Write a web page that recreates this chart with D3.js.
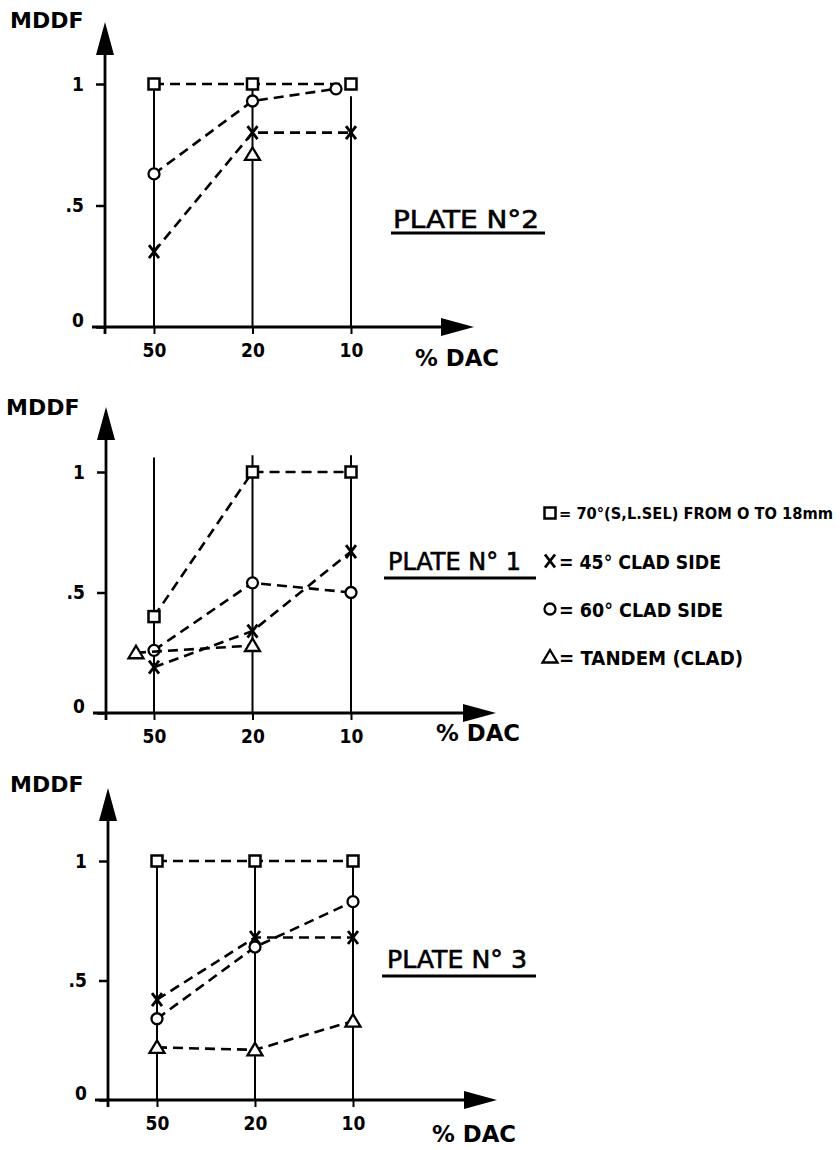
<!DOCTYPE html>
<html>
<head>
<meta charset="utf-8">
<script src="https://cdn.jsdelivr.net/npm/d3@7"></script>
<style>
body { margin: 0; background: #fff; }
svg { display: block; }
</style>
</head>
<body>
<div id="chart-area"></div>
<script>
const categories = ["50", "20", "10"];
const yTickValues = [0, 0.5, 1];
const yTickLabels = ["0", ".5", "1"];
const plateNames = ["PLATE  N°2", "PLATE  N° 1", "PLATE  N° 3"];
const seriesKeys = ["square", "cross", "circle", "triangle"];
const legendLabels = ["= 70°(S,L.SEL) FROM O TO 18mm", "= 45° CLAD SIDE", "= 60° CLAD SIDE", "= TANDEM (CLAD)"];

// MDDF per plate, in category order 50 / 20 / 10 (% DAC)
const plate2Square = [1.0, 1.0, 1.0];
const plate2Cross = [0.31, 0.80, 0.80];
const plate2Circle = [0.63, 0.93, 0.98];
const plate2Triangle = [null, 0.71, null];

const plate1Square = [0.40, 1.0, 1.0];
const plate1Cross = [0.19, 0.34, 0.67];
const plate1Circle = [0.26, 0.54, 0.50];
const plate1Triangle = [0.25, 0.28, null];

const plate3Square = [1.0, 1.0, 1.0];
const plate3Cross = [0.42, 0.68, 0.68];
const plate3Circle = [0.34, 0.64, 0.83];
const plate3Triangle = [0.22, 0.21, 0.33];

const FONT = "'DejaVu Sans Condensed', 'DejaVu Sans', sans-serif";
const full_width = 840, full_height = 1150;

const svg = d3.select("#chart-area").append("svg")
    .attr("width", full_width).attr("height", full_height);

// layout of the three stacked panels (pixels)
const panels = [
    { name: plateNames[0], data: { square: plate2Square, cross: plate2Cross, circle: plate2Circle, triangle: plate2Triangle },
      axisX: 105, xRange: [154, 351], y0: 327, y1: 84, xTip: 474, yTip: 22, mddf: [10, 28], dac: [415, 366],
      plate: [393, 228, 146], under: [391, 545, 233], stemTop: [1, 1, 0.95], nudge: { circle: [0, 0, -15] } },
    { name: plateNames[1], data: { square: plate1Square, cross: plate1Cross, circle: plate1Circle, triangle: plate1Triangle },
      axisX: 106, xRange: [154, 351], y0: 713, y1: 472, xTip: 496, yTip: 407, mddf: [6, 415], dac: [436, 741],
      plate: [388, 570, 133], under: [384, 536, 578], stemTop: [1.06, 1.07, 1.07], nudge: { triangle: [-18, 0, 0] } },
    { name: plateNames[2], data: { square: plate3Square, cross: plate3Cross, circle: plate3Circle, triangle: plate3Triangle },
      axisX: 108, xRange: [157, 353], y0: 1100, y1: 861, xTip: 497, yTip: 788, mddf: [10, 792], dac: [432, 1142],
      plate: [387, 968, 140], under: [382, 536, 976], stemTop: [1, 1, 1], nudge: {} }
];

function drawMarker(sel, type) {
    if (type === "square") {
        sel.append("rect").attr("x", -5.5).attr("y", -5.5).attr("width", 11).attr("height", 11)
            .attr("fill", "#fff").attr("stroke", "#000").attr("stroke-width", 2.5);
    } else if (type === "circle") {
        sel.append("circle").attr("r", 5.5)
            .attr("fill", "#fff").attr("stroke", "#000").attr("stroke-width", 2.3);
    } else if (type === "triangle") {
        sel.append("path").attr("d", "M0,-7L7.5,5.5L-7.5,5.5Z")
            .attr("fill", "#fff").attr("stroke", "#000").attr("stroke-width", 2.3).attr("stroke-linejoin", "miter");
    } else {
        sel.append("path").attr("d", "M-5,-6.5L5,6.5M5,-6.5L-5,6.5")
            .attr("fill", "none").attr("stroke", "#000").attr("stroke-width", 2.8);
    }
}

panels.forEach(p => {
    const g = svg.append("g");
    const x = d3.scalePoint().domain(categories).range(p.xRange);
    const y = d3.scaleLinear().domain([0, 1]).range([p.y0, p.y1]);

    // vertical lines at each % DAC level
    g.selectAll(".stem").data(categories).enter().append("line")
        .attr("x1", d => x(d)).attr("x2", d => x(d))
        .attr("y1", y(0)).attr("y2", (d, i) => y(p.stemTop[i]))
        .attr("stroke", "#000").attr("stroke-width", 2);

    // x axis labels + ticks
    const xa = g.append("g").attr("transform", "translate(0," + y(0) + ")")
        .call(d3.axisBottom(x).tickSize(7).tickPadding(10));
    xa.select(".domain").remove();
    xa.selectAll("line").attr("stroke", "#000").attr("stroke-width", 2);
    xa.selectAll("text").attr("font-family", FONT).attr("font-weight", "bold")
        .attr("font-size", "19px").attr("fill", "#000");

    // y axis labels + ticks
    const ya = g.append("g").attr("transform", "translate(" + p.axisX + ",0)")
        .call(d3.axisLeft(y).tickValues(yTickValues).tickSize(9).tickPadding(12)
            .tickFormat((d, i) => yTickLabels[i]));
    ya.select(".domain").remove();
    ya.selectAll("line").attr("stroke", "#000").attr("stroke-width", 2.5);
    ya.selectAll("text").attr("font-family", FONT).attr("font-weight", "bold")
        .attr("font-size", "19px").attr("fill", "#000")
        .attr("dy", d => d === 0 ? "-0.05em" : "0.32em");

    // axis lines with arrow heads
    g.append("line").attr("x1", p.axisX).attr("x2", p.axisX)
        .attr("y1", y(0) + 7).attr("y2", p.yTip + 30)
        .attr("stroke", "#000").attr("stroke-width", 2.8);
    g.append("path")
        .attr("d", `M${p.axisX},${p.yTip}L${p.axisX - 9},${p.yTip + 33}L${p.axisX + 9},${p.yTip + 33}Z`)
        .attr("fill", "#000");
    g.append("line").attr("x1", p.axisX - 13).attr("x2", p.xTip - 30)
        .attr("y1", y(0)).attr("y2", y(0))
        .attr("stroke", "#000").attr("stroke-width", 2.8);
    g.append("path")
        .attr("d", `M${p.xTip},${y(0)}L${p.xTip - 33},${y(0) - 9}L${p.xTip - 33},${y(0) + 9}Z`)
        .attr("fill", "#000");

    g.append("text").attr("x", p.mddf[0]).attr("y", p.mddf[1])
        .attr("font-family", "'DejaVu Sans', sans-serif").attr("font-weight", "bold")
        .attr("font-size", "22px").text("MDDF");

    g.append("text").attr("x", p.dac[0]).attr("y", p.dac[1])
        .attr("font-family", "'DejaVu Sans', sans-serif").attr("font-weight", "bold")
        .attr("font-size", "23px").attr("textLength", 84).attr("lengthAdjust", "spacingAndGlyphs")
        .text("% DAC");

    // plate title, underlined
    g.append("text").attr("x", p.plate[0]).attr("y", p.plate[1])
        .attr("font-family", "'DejaVu Sans', sans-serif")
        .attr("font-size", "24px").attr("stroke", "#000").attr("stroke-width", 0.6)
        .attr("textLength", p.plate[2]).attr("lengthAdjust", "spacingAndGlyphs")
        .text(p.name);
    g.append("line").attr("x1", p.under[0]).attr("x2", p.under[1])
        .attr("y1", p.under[2]).attr("y2", p.under[2])
        .attr("stroke", "#000").attr("stroke-width", 3);

    // dashed series lines and markers
    seriesKeys.forEach(key => {
        const nud = p.nudge[key] || [0, 0, 0];
        const pts = p.data[key].map((v, i) => ({ c: categories[i], v: v, dx: nud[i] }))
            .filter(d => d.v !== null);
        const line = d3.line().x(d => x(d.c) + d.dx).y(d => y(d.v));
        if (pts.length > 1) {
            g.append("path").attr("d", line(pts))
                .attr("fill", "none").attr("stroke", "#000").attr("stroke-width", 2.6)
                .attr("stroke-dasharray", "10,6");
        }
        pts.forEach(d => {
            const m = g.append("g").attr("transform", "translate(" + (x(d.c) + d.dx) + "," + y(d.v) + ")");
            drawMarker(m, key);
        });
    });
});

// legend beside plate 1
const legendY = d3.scalePoint().domain(seriesKeys).range([513, 657]);
const legendWidths = [274, 162, 164, 184];
const legendSizes = [16, 20, 20, 20];
const legend = svg.append("g");
seriesKeys.forEach((key, i) => {
    const m = legend.append("g").attr("transform", "translate(550," + legendY(key) + ")");
    drawMarker(m, key);
    legend.append("text").attr("x", 559).attr("y", legendY(key) + legendSizes[i] * 0.38)
        .attr("font-family", FONT).attr("font-weight", "bold").attr("font-size", legendSizes[i] + "px")
        .attr("textLength", legendWidths[i]).attr("lengthAdjust", "spacingAndGlyphs")
        .text(legendLabels[i]);
});
</script>
</body>
</html>
